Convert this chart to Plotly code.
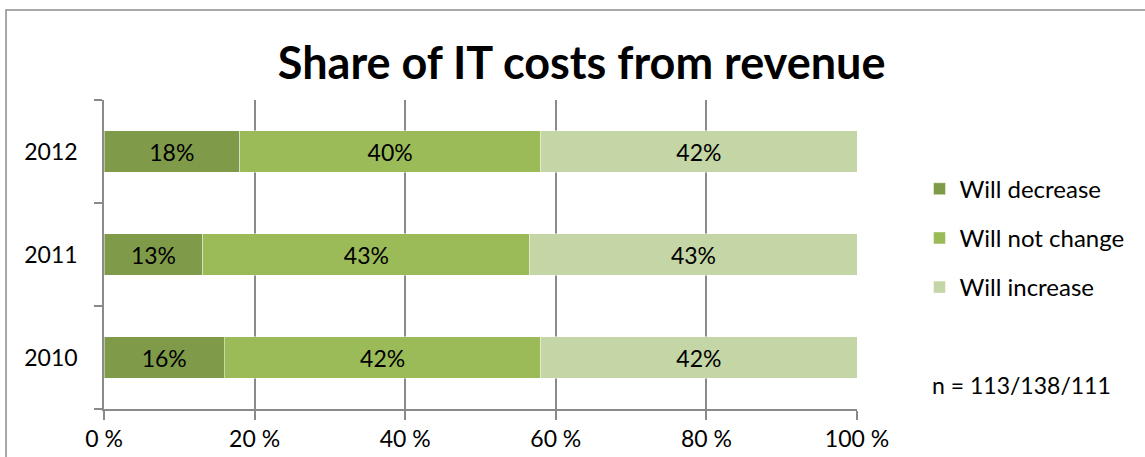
import plotly.graph_objects as go

# ---------------------------------------------------------------------------
# Data (percent of respondents, as printed on the bars)
# ---------------------------------------------------------------------------
years = ["2010", "2011", "2012"]
will_decrease = [16, 13, 18]
will_not_change = [42, 43, 40]
will_increase = [42, 43, 42]
x_ticks = [0, 20, 40, 60, 80, 100]
sample_note = "n = 113/138/111"
title_text = "Share of IT costs from revenue"

FONT = "Lato"
GRID = "#8a8a8a"

series = [
    ("Will decrease", will_decrease, "#7f9b4a"),
    ("Will not change", will_not_change, "#9bbb59"),
    ("Will increase", will_increase, "#c4d6a5"),
]

fig = go.Figure()

for i, (name, vals, col) in enumerate(series):
    fig.add_trace(go.Bar(
        y=years, x=vals,
        orientation="h",
        name=name,
        legendgroup=f"g{i}",
        marker=dict(color=col, line=dict(color="rgba(255,255,255,0.45)", width=1)),
        text=[f"{v}%" for v in vals],
        textposition="inside",
        insidetextanchor="middle",
        textfont=dict(family=FONT, size=23, color="black"),
        width=0.4,
        hoverinfo="skip",
    ))

# Outer chart border (runs off the right and bottom edge like the source)
fig.add_shape(
    type="rect", xref="paper", yref="paper",
    x0=-0.1301, x1=1.5, y0=-0.3, y1=1.2913,
    line=dict(color="#8c8c8c", width=1.5),
    layer="below",
)

fig.add_annotation(
    x=1.097, y=0.078, xref="paper", yref="paper",
    xanchor="left", yanchor="middle",
    text=sample_note, showarrow=False,
    font=dict(family=FONT, size=23, color="black"),
)

fig.update_layout(
    width=1145, height=457,
    margin=dict(l=104, r=288, t=100, b=48),
    barmode="stack",
    barnorm="percent",
    title=dict(
        text=f"<b>{title_text}</b>",
        x=0.508, xanchor="center", xref="container",
        y=0.862, yanchor="middle", yref="container",
        font=dict(family=FONT, size=45, color="black"),
    ),
    xaxis=dict(
        range=[0, 100],
        tickvals=x_ticks,
        ticktext=[f"{t} %" for t in x_ticks],
        showgrid=True, gridcolor=GRID, gridwidth=1.5,
        zeroline=False,
        showline=True, linecolor=GRID, linewidth=1.5,
        ticks="outside", ticklen=9, tickcolor=GRID, tickwidth=1.5,
        tickfont=dict(family=FONT, size=23, color="black"),
        automargin=False,
        fixedrange=True,
    ),
    yaxis=dict(
        type="category",
        categoryorder="array", categoryarray=years,
        showgrid=False, zeroline=False,
        showline=True, linecolor=GRID, linewidth=1.5,
        ticks="outside", ticklen=8, tickcolor=GRID, tickwidth=1.5,
        tickson="boundaries",
        tickfont=dict(family=FONT, size=23, color="black"),
        ticklabelstandoff=20,
        automargin=False,
        fixedrange=True,
    ),
    legend=dict(
        x=1.083, xanchor="left", y=0.553, yanchor="middle",
        traceorder="grouped",
        tracegroupgap=15,
        font=dict(family=FONT, size=24, color="black"),
        itemwidth=30,
        bgcolor="rgba(0,0,0,0)",
    ),
    plot_bgcolor="white",
    paper_bgcolor="white",
)

# drop the default page margin so the figure sits at the window's corner
fig.write_html(
    "out.html",
    config={"displayModeBar": False},
    post_script="document.body.style.margin='0';document.body.style.overflow='hidden';",
)
